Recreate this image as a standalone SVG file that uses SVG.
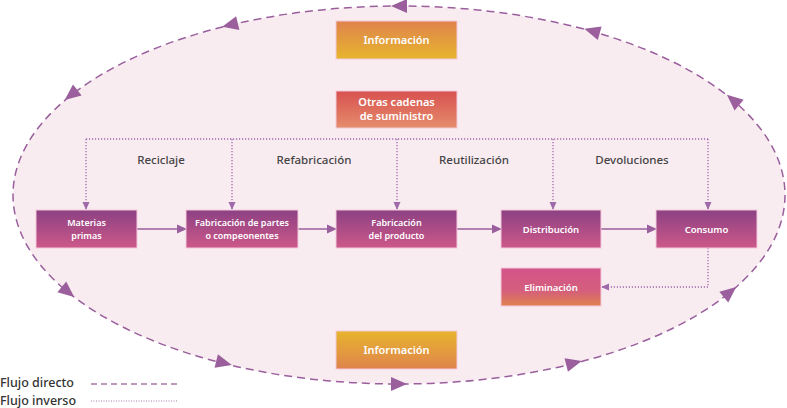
<svg xmlns="http://www.w3.org/2000/svg" xmlns:xlink="http://www.w3.org/1999/xlink" width="787" height="408" viewBox="0 0 787 408">
<style>
.box{stroke:#f3c9dc;stroke-width:1}
.bt{font-family:"Noto Sans","Liberation Sans",sans-serif;font-weight:600;fill:#ffffff;text-anchor:middle}
.lbl{font-family:"Noto Sans","Liberation Sans",sans-serif;font-weight:500;fill:#444444;font-size:11.5px;text-anchor:middle}
.leg{font-family:"Noto Sans","Liberation Sans",sans-serif;font-weight:500;fill:#333333;font-size:12.5px}
.dir{fill:none;stroke:#9a5f9c;stroke-width:1.5;stroke-dasharray:8,5}
.inv{fill:none;stroke:#a06aaa;stroke-width:1.3;stroke-dasharray:1.2,1.8}
.solid{fill:none;stroke:#9a5f9c;stroke-width:1.5}
.ah{fill:#9a5f9c}
</style>
<defs>
<linearGradient id="gPurple" x1="0" y1="0" x2="0" y2="1"><stop offset="0" stop-color="#8c4183"/><stop offset="1" stop-color="#cd5889"/></linearGradient>
<linearGradient id="gInfoTop" x1="0" y1="0" x2="0" y2="1"><stop offset="0" stop-color="#df834d"/><stop offset="1" stop-color="#e7b52d"/></linearGradient>
<linearGradient id="gInfoBot" x1="0" y1="0" x2="0" y2="1"><stop offset="0" stop-color="#e7b52d"/><stop offset="1" stop-color="#df834d"/></linearGradient>
<linearGradient id="gRed" x1="0" y1="0" x2="0" y2="1"><stop offset="0" stop-color="#d8514f"/><stop offset="1" stop-color="#e58c6c"/></linearGradient>
<linearGradient id="gElim" x1="0" y1="0" x2="0" y2="1"><stop offset="0" stop-color="#d3538a"/><stop offset="0.6" stop-color="#d45f7c"/><stop offset="1" stop-color="#e0824d"/></linearGradient>
<path id="bigHead" d="M8,0 L-8,-7 L-8,7 Z"/>
<marker id="arr" markerWidth="10" markerHeight="10" refX="9" refY="5" orient="auto" markerUnits="userSpaceOnUse"><path d="M0,0.5 L10,5 L0,9.5 Z" fill="#9a5f9c"/></marker>
<marker id="arrS" markerWidth="8" markerHeight="8" refX="7" refY="4" orient="auto" markerUnits="userSpaceOnUse"><path d="M0,0.5 L8,4 L0,7.5 Z" fill="#a06aaa"/></marker>
</defs>
<rect width="787" height="408" fill="#ffffff"/>
<ellipse cx="399" cy="195" rx="386" ry="189" fill="#f9ecf1"/>

<g id="connectors">
<ellipse class="dir" cx="399" cy="195" rx="386" ry="189"/>
<g class="ah">
<use xlink:href="#bigHead" transform="translate(399,6) rotate(180)"/>
<use xlink:href="#bigHead" transform="translate(592,31) rotate(195.8)"/>
<use xlink:href="#bigHead" transform="translate(230,25) rotate(166.6)"/>
<use xlink:href="#bigHead" transform="translate(71,95) rotate(141.9)"/>
<use xlink:href="#bigHead" transform="translate(68,292) rotate(39.2)"/>
<use xlink:href="#bigHead" transform="translate(224,363) rotate(14)"/>
<use xlink:href="#bigHead" transform="translate(399,384) rotate(0)"/>
<use xlink:href="#bigHead" transform="translate(574,363) rotate(-14)"/>
<use xlink:href="#bigHead" transform="translate(730,292) rotate(-39.2)"/>
<use xlink:href="#bigHead" transform="translate(733,100) rotate(-139.7)"/>
</g>
<line class="solid" x1="137" y1="229" x2="186" y2="229" marker-end="url(#arr)"/>
<line class="solid" x1="298" y1="229" x2="336" y2="229" marker-end="url(#arr)"/>
<line class="solid" x1="457" y1="229" x2="501" y2="229" marker-end="url(#arr)"/>
<line class="solid" x1="601" y1="229" x2="656" y2="229" marker-end="url(#arr)"/>
<path class="inv" d="M86,139 H708"/>
<line class="inv" x1="86" y1="139" x2="86" y2="209" marker-end="url(#arrS)"/>
<line class="inv" x1="232" y1="139" x2="232" y2="209" marker-end="url(#arrS)"/>
<line class="inv" x1="397" y1="139" x2="397" y2="209" marker-end="url(#arrS)"/>
<line class="inv" x1="553" y1="139" x2="553" y2="209" marker-end="url(#arrS)"/>
<line class="inv" x1="708" y1="139" x2="708" y2="209" marker-end="url(#arrS)"/>
<path class="inv" d="M708,248 V287 H602" marker-end="url(#arrS)"/>
</g>

<g id="info-top"><rect class="box" x="336" y="21" width="121" height="38" fill="url(#gInfoTop)"/><text class="bt" x="396.5" y="44" font-size="11">Información</text></g>
<g id="otras"><rect class="box" x="336" y="91" width="121" height="37" fill="url(#gRed)"/><text class="bt" x="396.5" y="105.5" font-size="11">Otras cadenas</text><text class="bt" x="396.5" y="119.5" font-size="11">de suministro</text></g>
<g id="info-bot"><rect class="box" x="336" y="331" width="121" height="38" fill="url(#gInfoBot)"/><text class="bt" x="396.5" y="354" font-size="11">Información</text></g>

<g id="materias"><rect class="box" x="36" y="210" width="101" height="38" fill="url(#gPurple)"/><text class="bt" x="86.5" y="226" font-size="9">Materias</text><text class="bt" x="86.5" y="238.5" font-size="9">primas</text></g>
<g id="partes"><rect class="box" x="186" y="210" width="112" height="38" fill="url(#gPurple)"/><text class="bt" x="242" y="226" font-size="9">Fabricación de partes</text><text class="bt" x="242" y="238.5" font-size="9">o compeonentes</text></g>
<g id="producto"><rect class="box" x="336" y="210" width="121" height="38" fill="url(#gPurple)"/><text class="bt" x="396.5" y="226" font-size="9">Fabricación</text><text class="bt" x="396.5" y="238.5" font-size="9">del producto</text></g>
<g id="distribucion"><rect class="box" x="501" y="210" width="100" height="38" fill="url(#gPurple)"/><text class="bt" x="551" y="233" font-size="9.5">Distribución</text></g>
<g id="consumo"><rect class="box" x="656" y="210" width="101" height="38" fill="url(#gPurple)"/><text class="bt" x="706.5" y="233" font-size="9.5">Consumo</text></g>
<g id="eliminacion"><rect class="box" x="501" y="268" width="100" height="38" fill="url(#gElim)"/><text class="bt" x="551" y="291" font-size="9.5">Eliminación</text></g>

<g id="labels">
<text class="lbl" x="161" y="164">Reciclaje</text>
<text class="lbl" x="314" y="164">Refabricación</text>
<text class="lbl" x="474" y="164">Reutilización</text>
<text class="lbl" x="632" y="164">Devoluciones</text>
</g>

<g id="legend">
<text class="leg" x="0" y="387">Flujo directo</text>
<line x1="91" y1="384" x2="178" y2="384" stroke="#a878ac" stroke-width="1.5" stroke-dasharray="6,4"/>
<text class="leg" x="0" y="405">Flujo inverso</text>
<line x1="91" y1="401" x2="178" y2="401" stroke="#a878ac" stroke-width="1.2" stroke-dasharray="1,1.5"/>
</g>
</svg>
